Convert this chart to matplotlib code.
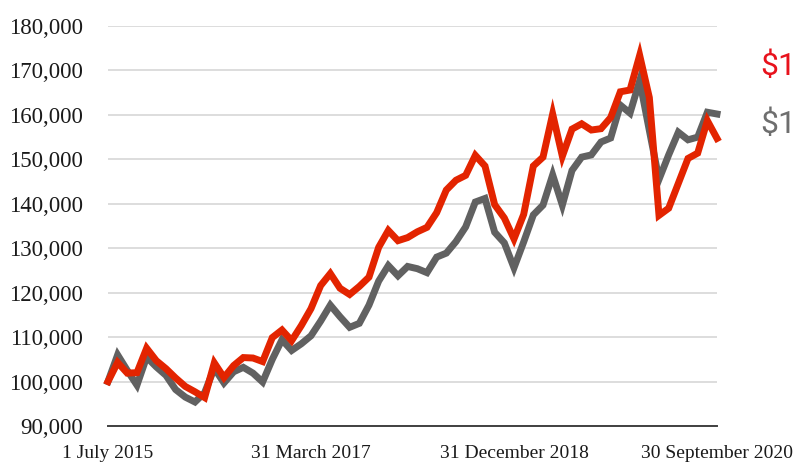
import matplotlib
matplotlib.use("Agg")
import matplotlib.pyplot as plt
from matplotlib.ticker import FuncFormatter

# monthly values, 1 July 2015 .. 30 September 2020
portfolio = [100000, 104300, 101900, 102000, 107500, 104700, 102900, 100800, 98900, 97700,
             96400, 104200, 100900, 103600, 105400, 105300, 104500, 109900, 111600, 109200,
             112600, 116400, 121600, 124300, 121000, 119600, 121400, 123500, 130200, 134000,
             131700, 132400, 133700, 134700, 138000, 143100, 145300, 146400, 150900, 148500,
             139800, 136800, 132100, 137600, 148500, 150500, 160200, 150700, 156800, 158000,
             156600, 156900, 159400, 165200, 165600, 173400, 163900, 137400, 139000, 144600,
             150200, 151400, 158700, 154700]
benchmark = [100000, 106000, 102500, 99200, 105500, 103300, 101400, 98200, 96500, 95400,
             97500, 103000, 99700, 102200, 103200, 101900, 99900, 105000, 109400, 107000,
             108500, 110300, 113600, 117200, 114600, 112200, 113100, 117200, 122600, 126100,
             123800, 125900, 125400, 124500, 128000, 128900, 131500, 134800, 140400, 141200,
             133600, 131200, 125600, 131400, 137500, 139700, 146500, 139700, 147500, 150500,
             151000, 153900, 154800, 162200, 160400, 167700, 156500, 145500, 151000, 156100,
             154400, 155000, 160600, 160200]

tick_pos = [0, 21, 42, 63]
tick_labels = ["1 July 2015", "31 March 2017", "31 December 2018", "30 September 2020"]
end_labels = ["$154,700", "$160,200"]

RED = "#E32400"
GREY = "#616161"

fig = plt.figure(figsize=(7.95, 4.63), dpi=100)
ax = fig.add_axes([0.1358, 0.0799, 0.7661, 0.8639])

x = list(range(len(portfolio)))
ax.plot(x, benchmark, color=GREY, lw=5, solid_joinstyle="miter", clip_on=False, zorder=3)
ax.plot(x, portfolio, color=RED, lw=5, solid_joinstyle="miter", clip_on=False, zorder=4)

ax.set_xlim(0, 63)
ax.set_ylim(90000, 180000)
ax.set_yticks(range(90000, 180001, 10000))
ax.yaxis.set_major_formatter(FuncFormatter(lambda v, p: f"{int(v):,}"))
ax.set_xticks(tick_pos)
ax.set_xticklabels(tick_labels)

ax.grid(axis="y", color="#D3D3D3", lw=1.1)
ax.set_axisbelow(True)
for s in ["top", "right", "left"]:
    ax.spines[s].set_visible(False)
ax.spines["bottom"].set_color("#404040")
ax.spines["bottom"].set_linewidth(1.4)
ax.tick_params(length=0)
ax.tick_params(axis="y", pad=18)
ax.tick_params(axis="x", pad=14)
for t in ax.get_yticklabels():
    t.set_fontfamily("Liberation Serif")
    t.set_fontsize(16.5)
    t.set_color("#1a1a1a")
for t in ax.get_xticklabels():
    t.set_fontfamily("Liberation Serif")
    t.set_fontsize(14)
    t.set_color("#1a1a1a")

# end-of-series values, running off the right edge as in the original
fig.text(0.956, 0.838, end_labels[0], color="#E8121C", fontsize=23,
         family="Roboto", va="baseline")
fig.text(0.956, 0.713, end_labels[1], color="#6E6E6E", fontsize=23,
         family="Roboto", va="baseline")

fig.savefig("out.png", dpi=100)
